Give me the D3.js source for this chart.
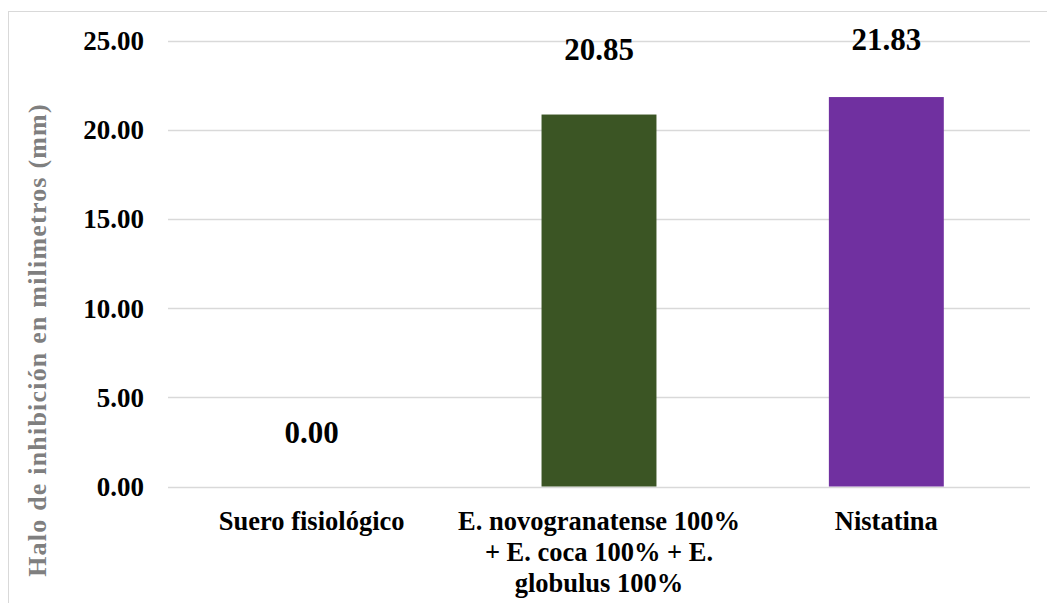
<!DOCTYPE html>
<html>
<head>
<meta charset="utf-8">
<script src="https://cdn.jsdelivr.net/npm/d3@7"></script>
<style>
  html, body { margin: 0; padding: 0; background: #fff; }
  svg { display: block; }
  text { font-family: "Liberation Serif", "Times New Roman", serif; font-weight: bold; }
</style>
</head>
<body>
<div id="chart"></div>
<script>
// Inhibition halo (mm) per treatment
const categories = [
  ["Suero fisiológico"],
  ["E. novogranatense 100%", "+ E. coca 100% + E.", "globulus 100%"],
  ["Nistatina"]
];
const values = [0.00, 20.85, 21.83];
const barColors = ["#3b5524", "#3b5524", "#7030a0"];
const tickValues = [0, 5, 10, 15, 20, 25];
const yTitle = "Halo de inhibición en milimetros (mm)";

// Vertical lift of each value label's baseline above its bar top
const labelLift = [44, 55, 47];

const W = 1047, H = 603;
const plot = { left: 168, right: 1030, top: 40.5, bottom: 486.5 };

const svg = d3.select("#chart").append("svg")
  .attr("width", W).attr("height", H);

// chart frame
svg.append("rect")
  .attr("x", 8.5).attr("y", 11.5)
  .attr("width", W + 20).attr("height", H + 20)
  .attr("fill", "#fff").attr("stroke", "#d9d9d9").attr("stroke-width", 1);

const x = d3.scaleBand()
  .domain(d3.range(categories.length))
  .range([plot.left, plot.right])
  .paddingInner(0.6).paddingOuter(0.3);

const y = d3.scaleLinear().domain([0, 25]).range([plot.bottom, plot.top]);

// gridlines
svg.append("g")
  .selectAll("line").data(tickValues).join("line")
  .attr("x1", plot.left).attr("x2", plot.right)
  .attr("y1", d => Math.round(y(d)) + 0.5).attr("y2", d => Math.round(y(d)) + 0.5)
  .attr("stroke", "#d9d9d9").attr("stroke-width", 1.3);

// y axis tick labels
const yAxis = d3.axisLeft(y).tickValues(tickValues).tickFormat(d3.format(".2f")).tickSize(0).tickPadding(0);
const yg = svg.append("g").attr("transform", `translate(144,0)`).call(yAxis);
yg.select(".domain").remove();
yg.selectAll("text")
  .attr("font-family", "Liberation Serif, Times New Roman, serif")
  .attr("font-weight", "bold").attr("font-size", 27).attr("fill", "#000")
  .attr("dy", "0.33em");

// bars
svg.append("g").selectAll("rect").data(values).join("rect")
  .attr("x", (d, i) => x(i))
  .attr("width", x.bandwidth())
  .attr("y", d => y(d))
  .attr("height", d => y(0) - y(d))
  .attr("fill", (d, i) => barColors[i]);

// value labels
svg.append("g").selectAll("text").data(values).join("text")
  .attr("x", (d, i) => x(i) + x.bandwidth() / 2)
  .attr("y", (d, i) => y(d) - labelLift[i])
  .attr("text-anchor", "middle")
  .attr("font-size", 31).attr("fill", "#000")
  .text(d => d.toFixed(2));

// category labels
const xg = svg.append("g");
categories.forEach((lines, i) => {
  const t = xg.append("text")
    .attr("x", x(i) + x.bandwidth() / 2)
    .attr("y", 530)
    .attr("text-anchor", "middle")
    .attr("font-size", 26.5).attr("fill", "#000");
  lines.forEach((ln, k) => {
    t.append("tspan").attr("x", x(i) + x.bandwidth() / 2)
      .attr("dy", k === 0 ? 0 : 31).text(ln);
  });
});

// y axis title
svg.append("text")
  .attr("transform", `translate(46,340) rotate(-90)`)
  .attr("text-anchor", "middle")
  .attr("font-size", 26).attr("letter-spacing", 1.2).attr("fill", "#7f7f7f")
  .text(yTitle);
</script>
</body>
</html>
